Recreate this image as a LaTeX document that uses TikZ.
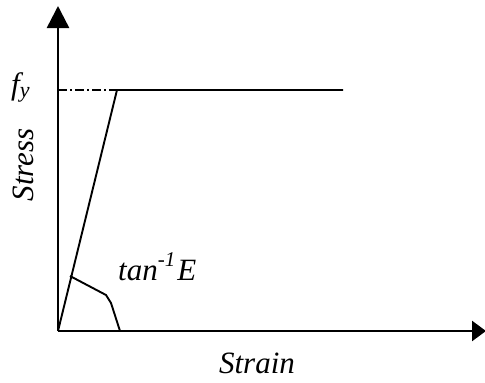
\documentclass[tikz,border=0pt]{standalone}
\usepackage{fontspec}
\setmainfont{Liberation Serif}
\usetikzlibrary{arrows.meta}
\begin{document}
\begin{tikzpicture}[x=1pt,y=-1pt,
  axis/.style={line width=2.5pt},
  curve/.style={line width=1.9pt},
  lbl/.style={font=\fontsize{31}{35}\selectfont\itshape, inner sep=0pt}]
\useasboundingbox (0,0) rectangle (485,383);
\coordinate (O) at (58,331);
\coordinate (ytip) at (58,6);
\coordinate (xtip) at (486,331);
\coordinate (Y) at (117,90);
\coordinate (Yend) at (343,90);
\coordinate (fy0) at (58,90);
\coordinate (a1) at (70,276);
\coordinate (a2) at (106,295);
\coordinate (a3) at (111,303);
\coordinate (a4) at (120,331);
\draw[axis,-{Triangle[length=22pt,width=22pt]}] (O) -- (ytip);
\draw[axis,-{Triangle[length=14pt,width=20pt]}] (O) -- (xtip);
\draw[curve] (O) -- (Y) -- (Yend);
\draw[curve,dash pattern=on 9pt off 3pt on 2pt off 3pt] (fy0) -- (Y);
\draw[curve,line join=round] (a1) -- (a2) -- (a3) -- (a4);
\node[lbl,anchor=base west] (fy) at (11,94) {f\raisebox{-0.12em}{\fontsize{22}{24}\selectfont y}};
\node[lbl,rotate=90,anchor=base] (stress) at (33,165) {Stress};
\node[lbl,anchor=base] (strain) at (257,373) {Strain};
\node[lbl,anchor=base west] (tan) at (118,280) {tan\raisebox{0.42em}{\fontsize{21}{24}\selectfont -1}\kern2pt E};
\end{tikzpicture}
\end{document}
